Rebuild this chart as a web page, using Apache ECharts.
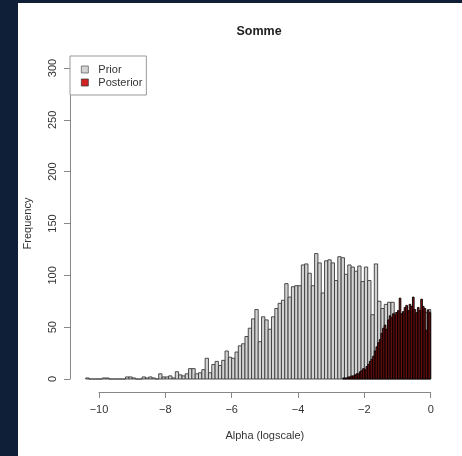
<!DOCTYPE html>
<html>
<head>
<meta charset="utf-8">
<title>Somme</title>
<script src="https://cdn.jsdelivr.net/npm/echarts@6/dist/echarts.min.js"></script>
<style>
  html, body { margin: 0; padding: 0; background: #0f1f38; }
  #panel { position: absolute; left: 18px; top: 3px; width: 444px; height: 453px; background: #ffffff; }
  #chart { position: absolute; left: 0; top: 0; width: 462px; height: 456px; }
</style>
</head>
<body>
<div id="panel"></div>
<div id="chart"></div>
<script>
// Histogram of log-scale Alpha draws: prior (bin width 0.1) and posterior (bin width 0.05)
const priorBinStart = -10.4;
const priorBinWidth = 0.1;
const priorCounts = [
  1, 0, 0, 0, 0, 1, 1, 0, 0, 0,          // -10.4 .. -9.5
  0, 0, 2, 2, 1, 0, 0, 2, 1, 2,          // -9.4 .. -8.5
  1, 0, 5, 2, 2, 3, 1, 7, 4, 3,          // -8.4 .. -7.5
  5, 10, 10, 5, 6, 9, 20, 6, 14, 17,     // -7.4 .. -6.5
  13, 18, 27, 21, 20, 26, 32, 34, 41, 49, // -6.4 .. -5.5
  58, 67, 36, 60, 57, 48, 60, 68, 73, 76, // -5.4 .. -4.5
  92, 79, 89, 90, 90, 110, 111, 102, 90, 121, // -4.4 .. -3.5
  112, 83, 114, 115, 112, 95, 118, 117, 101, 110, // -3.4 .. -2.5
  108, 104, 109, 94, 108, 95, 62, 111, 75, 68, // -2.4 .. -1.5
  72, 74, 74, 64, 62, 60, 63, 65, 60, 62,  // -1.4 .. -0.5
  58, 63, 64, 67                           // -0.4 .. -0.1
];

const posteriorBinStart = -2.65;
const posteriorBinWidth = 0.05;
const posteriorCounts = [
  1, 1, 1, 2, 2, 3, 3, 4, 5, 5,
  7, 8, 10, 9, 12, 14, 17, 19, 22, 27,
  31, 35, 38, 44, 49, 52, 48, 57, 61, 59,
  63, 62, 64, 66, 78, 63, 65, 69, 71, 66,
  72, 70, 79, 67, 64, 69, 66, 77, 70, 68,
  47, 66, 64
];

const xTicks = { min: -10, max: 0, step: 2 };
const yTicks = { min: 0, max: 300, step: 50 };

const titleText = 'Somme';
const xLabel = 'Alpha (logscale)';
const yLabel = 'Frequency';
const seriesNames = ['Prior', 'Posterior'];

function toBins(start, width, counts) {
  return counts.map(function (c, i) {
    const lo = +(start + i * width).toFixed(4);
    const hi = +(start + (i + 1) * width).toFixed(4);
    return [lo, hi, c];
  });
}

function histRenderer(fill, stroke, lw) {
  return function (params, api) {
    const p0 = api.coord([api.value(0), api.value(2)]);
    const p1 = api.coord([api.value(1), 0]);
    return {
      type: 'rect',
      shape: { x: p0[0], y: p0[1], width: p1[0] - p0[0], height: p1[1] - p0[1] },
      style: { fill: fill, stroke: stroke, lineWidth: lw }
    };
  };
}

const FONT = "'Liberation Sans', Arial, sans-serif";
const minusFmt = function (v) { return String(v).replace('-', '\u2212'); };

const chart = echarts.init(document.getElementById('chart'), null, { renderer: 'canvas' });

chart.setOption({
  backgroundColor: 'transparent',
  animation: false,
  textStyle: { fontFamily: FONT },
  title: {
    text: titleText,
    left: 254,
    top: 20,
    textAlign: 'center',
    textStyle: { fontSize: 12.5, fontWeight: 'bold', color: '#222', fontFamily: FONT }
  },
  legend: {
    data: seriesNames,
    orient: 'vertical',
    left: 70,
    top: 56,
    padding: [7, 4, 6, 11],
    itemGap: 0,
    itemWidth: 7,
    itemHeight: 7,
    icon: 'rect',
    borderColor: '#999',
    borderWidth: 1,
    backgroundColor: '#fff',
    itemStyle: { borderWidth: 0.7 },
    textStyle: { fontSize: 11, color: '#333', fontFamily: FONT, lineHeight: 13, padding: [0, 0, 0, 5] }
  },
  grid: { left: 99, right: 31.3, top: 68, bottom: 77, containLabel: false },
  xAxis: {
    type: 'value',
    min: xTicks.min,
    max: xTicks.max,
    interval: xTicks.step,
    offset: 13,
    name: xLabel,
    nameLocation: 'middle',
    nameGap: 38,
    nameTextStyle: { fontSize: 11, color: '#333', fontFamily: FONT },
    axisLine: { show: true, onZero: false, lineStyle: { color: '#888', width: 1 } },
    axisTick: { show: true, inside: false, length: 6, lineStyle: { color: '#888' } },
    axisLabel: { fontSize: 11, color: '#333', margin: 12, formatter: minusFmt, fontFamily: FONT },
    splitLine: { show: false }
  },
  yAxis: {
    type: 'value',
    min: yTicks.min,
    max: yTicks.max,
    interval: yTicks.step,
    offset: 29,
    name: yLabel,
    nameLocation: 'middle',
    nameGap: 37,
    nameTextStyle: { fontSize: 11, color: '#333', fontFamily: FONT },
    axisLine: { show: true, onZero: false, lineStyle: { color: '#888', width: 1 } },
    axisTick: { show: true, inside: false, length: 6, lineStyle: { color: '#888' } },
    axisLabel: { fontSize: 11, color: '#333', margin: 12, rotate: 90, fontFamily: FONT },
    splitLine: { show: false }
  },
  series: [
    {
      name: seriesNames[0],
      type: 'custom',
      clip: false,
      renderItem: histRenderer('#d3d3d3', '#3a3a3a', 0.9),
      itemStyle: { color: '#d3d3d3', borderColor: '#555', borderWidth: 0.7 },
      encode: { x: [0, 1], y: 2 },
      data: toBins(priorBinStart, priorBinWidth, priorCounts),
      z: 2
    },
    {
      name: seriesNames[1],
      type: 'custom',
      clip: false,
      renderItem: histRenderer('#9a1414', '#000000', 0.9),
      itemStyle: { color: '#d22222', borderColor: '#333', borderWidth: 0.7 },
      encode: { x: [0, 1], y: 2 },
      data: toBins(posteriorBinStart, posteriorBinWidth, posteriorCounts),
      z: 3
    }
  ]
});
</script>
</body>
</html>
